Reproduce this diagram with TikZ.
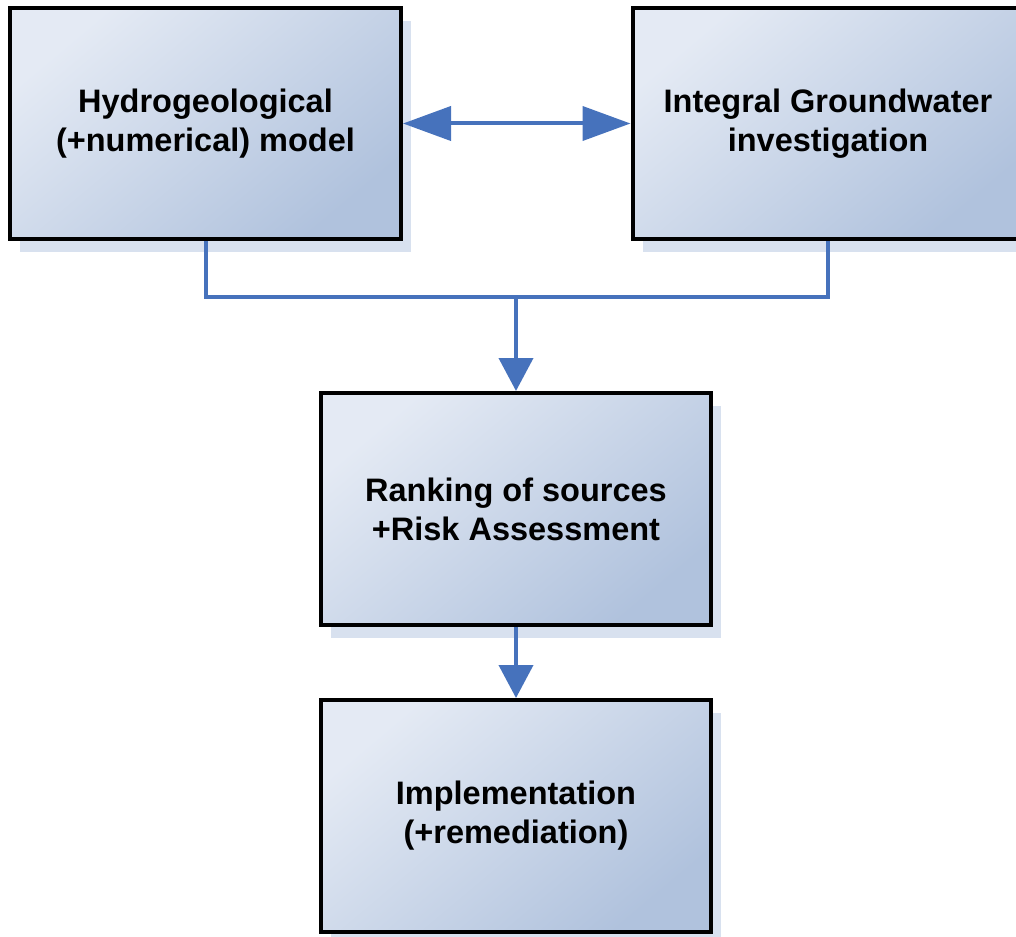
\documentclass[tikz,border=0pt]{standalone}
\usepackage{fontspec}
\setmainfont{Liberation Sans}
\usetikzlibrary{arrows.meta,shadows}
\definecolor{boxlight}{RGB}{228,234,244}
\definecolor{boxdark}{RGB}{176,194,221}
\definecolor{shadowblue}{RGB}{216,225,239}
\definecolor{linkblue}{RGB}{70,114,188}
\tikzset{
  boxnode/.style={draw=black, line width=4pt, rectangle,
    minimum width=391pt, minimum height=231pt, inner sep=0pt,
    top color=boxlight, bottom color=boxdark, shading angle=40,
    drop shadow={shadow xshift=10pt, shadow yshift=-13pt, fill=shadowblue, opacity=1},
    align=center, font=\fontsize{32.5}{39}\selectfont\bfseries},
  link/.style={draw=linkblue, line width=4pt},
  harrow/.style={link, {Triangle[length=48pt,width=34pt]}-{Triangle[length=48pt,width=34pt]}},
  varrow/.style={link, -{Triangle[length=33pt,width=34pt]}}
}
\begin{document}
\begin{tikzpicture}[x=1pt,y=-1pt]
\useasboundingbox (0,0) rectangle (1016,936);
\node[boxnode] (b1) at (205.5,123.5) {Hydrogeological\\(+numerical) model};
\node[boxnode] (b2) at (828,123.5) {Integral Groundwater\\investigation};
\node[boxnode, minimum width=390pt, minimum height=232pt] (b3) at (516,509) {Ranking of sources\\+Risk Assessment};
\node[boxnode, minimum width=390pt, minimum height=232pt] (b4) at (516,816) {Implementation\\(+remediation)};
\coordinate (j) at (516,297);
\draw[harrow] (b1.east) -- (b2.west);
\draw[link] (b1.south) |- (j);
\draw[link] (b2.south) |- (j);
\draw[varrow] (j) -- (b3.north);
\draw[varrow] (b3.south) -- (b4.north);
\end{tikzpicture}
\end{document}
